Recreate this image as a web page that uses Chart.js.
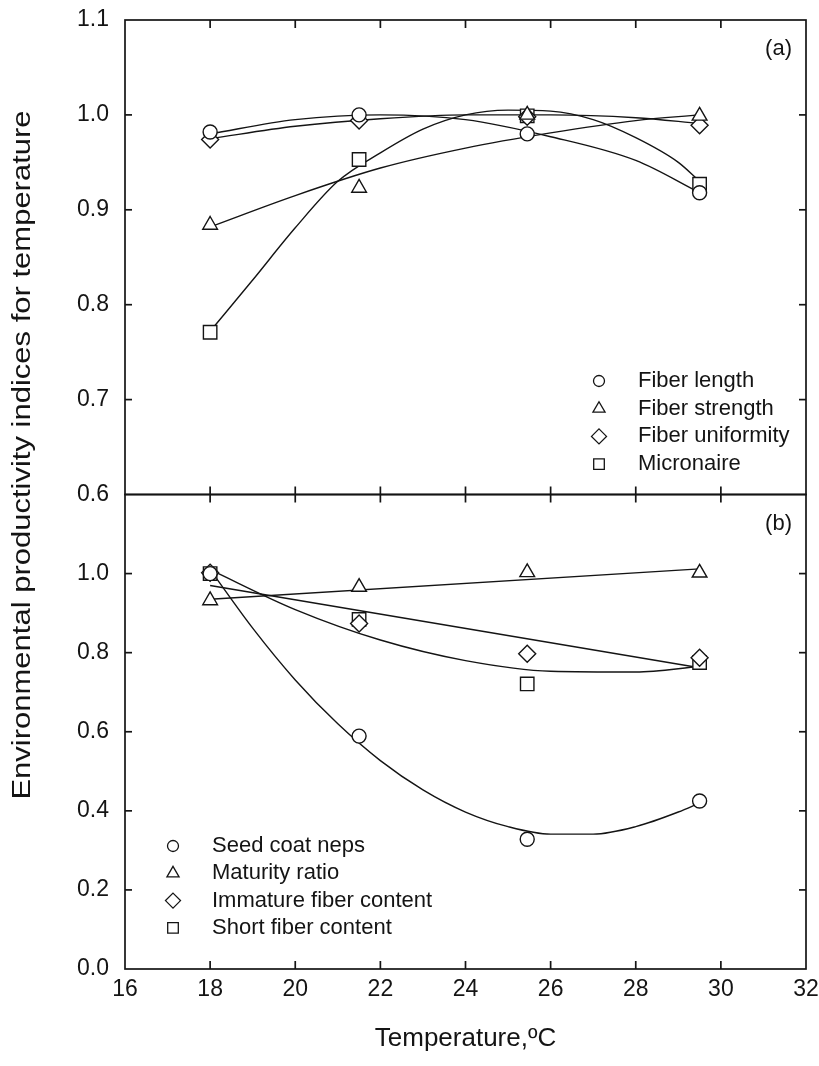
<!DOCTYPE html>
<html>
<head>
<meta charset="utf-8">
<script src="https://cdn.jsdelivr.net/npm/chart.js@4.4.1/dist/chart.umd.min.js"></script>
<style>
  html, body { margin: 0; padding: 0; background: #fff; }
  #wrap { width: 819px; height: 1066px; }
</style>
</head>
<body>
<div id="wrap"><canvas id="chart" width="819" height="1066"></canvas></div>
<script>
// growth temperatures (°C)
const temps = [18, 21.5, 25.45, 29.5];

// (a) fibre properties
const fiberLength     = [0.982, 1.000, 0.980, 0.918];
const fiberStrength   = [0.884, 0.923, 1.000, 0.999];
const fiberUniformity = [0.974, 0.994, 0.998, 0.989];
const micronaire      = [0.771, 0.953, 0.999, 0.927];

// (b) fibre maturity / neps
const seedCoatNeps  = [1.000, 0.589, 0.328, 0.425];
const maturityRatio = [0.932, 0.966, 1.003, 1.002];
const immatureFiber = [1.002, 0.874, 0.797, 0.787];
const shortFiber    = [1.000, 0.884, 0.721, 0.775];

// fitted curves
const fitX      = [18, 20, 22, 24, 26, 28, 29.5];
const fitXdense = [18, 19, 20, 21, 22, 23, 24, 25, 26, 27, 28, 29, 29.5];
const fitXline  = [18, 29.5];
const fitLength     = [0.980, 0.995, 1.000, 0.995, 0.977, 0.952, 0.918];
const fitStrength   = [0.882, 0.915, 0.944, 0.965, 0.981, 0.994, 1.000];
const fitUniformity = [0.975, 0.988, 0.996, 1.000, 1.000, 0.997, 0.991];
const fitMicronaire = [0.772, 0.826, 0.881, 0.930, 0.960, 0.985, 1.000, 1.005, 1.004, 0.995, 0.976, 0.950, 0.930];
const fitNeps       = [1.010, 0.862, 0.731, 0.620, 0.527, 0.453, 0.397, 0.360, 0.341, 0.341, 0.360, 0.397, 0.420];
const fitMaturity   = [0.935, 1.012];
const fitImmature   = [1.010, 0.909, 0.832, 0.780, 0.753, 0.751, 0.765];
const fitShort      = [0.970, 0.762];

const labelsA = ['Fiber length', 'Fiber strength', 'Fiber uniformity', 'Micronaire'];
const labelsB = ['Seed coat neps', 'Maturity ratio', 'Immature fiber content', 'Short fiber content'];
const styles  = ['circle', 'triangle', 'rectRot', 'rect'];
const radii   = { circle: 7, triangle: 8.5, rectRot: 8.5, rect: 9.5 };
const legendRadii = { circle: 5.5, triangle: 7, rectRot: 7.5, rect: 7.5 };

const ink = '#141414';
const fontFam = "'Liberation Sans', Arial, Helvetica, sans-serif";

const xy = (xs, ys) => xs.map((x, i) => ({ x: x, y: ys[i] }));

function pointSet(label, ys, style, axis) {
  return {
    label: label, data: xy(temps, ys), yAxisID: axis, showLine: false, order: 0,
    pointStyle: style, pointRadius: radii[style], pointHoverRadius: radii[style],
    pointBackgroundColor: '#fff', pointBorderColor: ink, pointBorderWidth: 1.4
  };
}
function fitSet(xs, ys, axis) {
  return {
    label: 'fit', data: xy(xs, ys), yAxisID: axis, order: 1, showLine: true,
    borderColor: ink, borderWidth: 1.4, pointRadius: 0, pointHoverRadius: 0, fill: false,
    cubicInterpolationMode: 'monotone'
  };
}

const datasets = [
  pointSet(labelsA[0], fiberLength, 'circle', 'ya'),
  pointSet(labelsA[1], fiberStrength, 'triangle', 'ya'),
  pointSet(labelsA[2], fiberUniformity, 'rectRot', 'ya'),
  pointSet(labelsA[3], micronaire, 'rect', 'ya'),
  pointSet(labelsB[0], seedCoatNeps, 'circle', 'yb'),
  pointSet(labelsB[1], maturityRatio, 'triangle', 'yb'),
  pointSet(labelsB[2], immatureFiber, 'rectRot', 'yb'),
  pointSet(labelsB[3], shortFiber, 'rect', 'yb'),
  fitSet(fitX, fitLength, 'ya'),
  fitSet(fitX, fitStrength, 'ya'),
  fitSet(fitX, fitUniformity, 'ya'),
  fitSet(fitXdense, fitMicronaire, 'ya'),
  fitSet(fitXdense, fitNeps, 'yb'),
  fitSet(fitXline, fitMaturity, 'yb'),
  fitSet(fitX, fitImmature, 'yb'),
  fitSet(fitXline, fitShort, 'yb')
];

// marker shapes for the in-plot legends
function marker(ctx, style, x, y, r) {
  ctx.beginPath();
  if (style === 'circle') {
    ctx.arc(x, y, r, 0, Math.PI * 2);
  } else if (style === 'triangle') {
    for (let k = 0; k < 3; k++) {
      const a = k * 2 * Math.PI / 3;
      const px = x + Math.sin(a) * r, py = y - Math.cos(a) * r;
      k ? ctx.lineTo(px, py) : ctx.moveTo(px, py);
    }
    ctx.closePath();
  } else if (style === 'rectRot') {
    ctx.moveTo(x, y - r); ctx.lineTo(x + r, y); ctx.lineTo(x, y + r); ctx.lineTo(x - r, y);
    ctx.closePath();
  } else {
    const s = r * Math.SQRT1_2;
    ctx.rect(x - s, y - s, 2 * s, 2 * s);
  }
  ctx.fill();
  ctx.stroke();
}

const framePlugin = {
  id: 'frames',
  afterDraw(chart) {
    const ctx = chart.ctx;
    const xs = chart.scales.x;
    const L = chart.chartArea.left, R = chart.chartArea.right;
    const seg = (x1, y1, x2, y2) => { ctx.beginPath(); ctx.moveTo(x1, y1); ctx.lineTo(x2, y2); ctx.stroke(); };
    ctx.save();
    ctx.strokeStyle = ink;
    ctx.lineWidth = 1.7;
    [chart.scales.ya, chart.scales.yb].forEach(s => {
      ctx.strokeRect(L, s.top, R - L, s.bottom - s.top);
      s.ticks.forEach(t => {
        const py = s.getPixelForValue(t.value);
        if (py <= s.top + 1 || py >= s.bottom - 1) return;
        seg(L, py, L + 7, py);
        seg(R, py, R - 7, py);
      });
      xs.ticks.forEach(t => {
        const px = xs.getPixelForValue(t.value);
        if (px <= L + 1 || px >= R - 1) return;
        seg(px, s.top, px, s.top + 8);
        seg(px, s.bottom, px, s.bottom - 8);
      });
    });

    // legends
    ctx.fillStyle = ink;
    ctx.font = '22px ' + fontFam;
    ctx.textBaseline = 'middle';
    ctx.textAlign = 'left';
    const legend = (labels, sx, tx, y0, dy) => {
      labels.forEach((lab, i) => {
        const y = y0 + i * dy;
        ctx.fillStyle = '#fff';
        ctx.lineWidth = 1.3;
        marker(ctx, styles[i], sx, y, legendRadii[styles[i]]);
        ctx.fillStyle = ink;
        ctx.fillText(lab, tx, y);
      });
    };
    legend(labelsA, 599, 638, 381, 27.7);
    legend(labelsB, 173, 212, 846, 27.3);

    // panel tags
    ctx.textAlign = 'right';
    ctx.fillText('(a)', 792, 49);
    ctx.fillText('(b)', 792, 524);

    // shared y title
    ctx.save();
    ctx.translate(23, 455);
    ctx.rotate(-Math.PI / 2);
    ctx.scale(1.24, 1);
    ctx.textAlign = 'center';
    ctx.font = '25px ' + fontFam;
    ctx.fillText('Environmental productivity indices for temperature', 0, 0);
    ctx.restore();
    ctx.restore();
  }
};

const tickFont = { family: fontFam, size: 23 };

new Chart(document.getElementById('chart'), {
  type: 'scatter',
  data: { datasets: datasets },
  options: {
    responsive: false,
    animation: false,
    layout: { padding: { top: 20, right: 13, left: 0, bottom: 0 } },
    plugins: { legend: { display: false }, tooltip: { enabled: false } },
    scales: {
      x: {
        type: 'linear', min: 16, max: 32,
        grid: { display: false, drawTicks: false },
        border: { display: false },
        ticks: { stepSize: 2, padding: 7, color: ink, font: tickFont, maxRotation: 0 },
        title: { display: true, text: 'Temperature,ºC', color: ink, font: { family: fontFam, size: 26 }, padding: { bottom: 12 } },
        afterFit(s) { s.height = 97; s.paddingLeft = 0; s.paddingRight = 0; }
      },
      // left boxes are stacked in reverse order: yb listed first ends up at the bottom
      yb: {
        type: 'linear', position: 'left', stack: 'panels', stackWeight: 1,
        min: 0, max: 1.2,
        grid: { display: false, drawTicks: false },
        border: { display: false },
        ticks: { stepSize: 0.2, padding: 16, color: ink, font: tickFont,
                 callback: v => (Math.abs(v - 1.2) < 1e-6 ? '' : v.toFixed(1)) },
        afterFit(s) { s.width = 125; s.paddingTop = 0; s.paddingBottom = 0; }
      },
      ya: {
        type: 'linear', position: 'left', stack: 'panels', stackWeight: 1,
        min: 0.6, max: 1.1,
        grid: { display: false, drawTicks: false },
        border: { display: false },
        ticks: { stepSize: 0.1, padding: 16, color: ink, font: tickFont,
                 callback: v => v.toFixed(1) },
        afterFit(s) { s.width = 125; s.paddingTop = 0; s.paddingBottom = 0; }
      }
    }
  },
  plugins: [framePlugin]
});
</script>
</body>
</html>
